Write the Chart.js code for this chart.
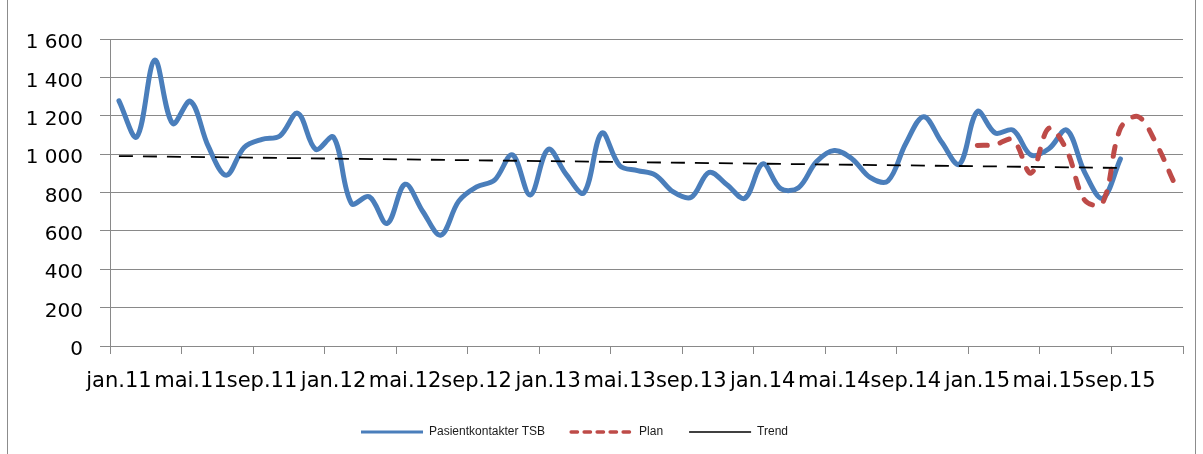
<!DOCTYPE html>
<html>
<head>
<meta charset="utf-8">
<script src="https://cdn.jsdelivr.net/npm/chart.js@4.4.1/dist/chart.umd.min.js"></script>
<style>
  html, body { margin: 0; padding: 0; background: #ffffff; }
  #wrap { position: relative; width: 1203px; height: 454px; }
</style>
</head>
<body>
<div id="wrap"><canvas id="c" width="1203" height="454"></canvas></div>
<script>
// Month axis: jan.11 .. des.15
const monthNames = ['jan', 'feb', 'mar', 'apr', 'mai', 'jun', 'jul', 'aug', 'sep', 'okt', 'nov', 'des'];
const years = ['11', '12', '13', '14', '15'];
const categories = years.flatMap(y => monthNames.map(m => m + '.' + y));

// Pasientkontakter TSB per month, jan.11 .. sep.15
const pasientkontakter = [
  1278, 1090, 1490, 1160, 1275, 1040, 890, 1035, 1077, 1095, 1213, 1025,
  1088, 743, 778, 639, 843, 700, 578, 755, 829, 864, 996, 787,
  1025, 896, 798, 1110, 940, 914, 891, 803, 775, 905, 840, 770,
  949, 820, 825, 960, 1019, 975, 879, 860, 1055, 1195, 1063, 947,
  1222, 1110, 1125, 995, 1028, 1125, 905, 770, 975
];

// Plan for 2015
const planMonths = ['jan.15', 'feb.15', 'mar.15', 'apr.15', 'mai.15', 'jun.15',
                    'jul.15', 'aug.15', 'sep.15', 'okt.15', 'nov.15', 'des.15'];
const planValues = [1045, 1050, 1075, 901, 1135, 1020, 760, 745, 1134, 1195, 1055, 852];

// Linear trend, start and end points
const trendMonths = ['jan.11', 'sep.15'];
const trendValues = [990, 928];

// Value axis
const yMin = 0, yMax = 1600, yStep = 200;
const tickEvery = 4;

const GRID = '#898989';
const FONT_AXIS = 'DejaVu Sans';
const FONT_LEGEND = 'Liberation Sans';

function spaced(v) {
  if (v >= 1000) return Math.floor(v / 1000) + ' ' + String(v % 1000).padStart(3, '0');
  return String(v);
}

const legendNudge = {
  id: 'legendNudge',
  afterLayout(chart, args, opts) {
    const lg = chart.legend;
    if (!lg) return;
    lg.left += opts.dx; lg.right += opts.dx;
    lg.top += opts.dy; lg.bottom += opts.dy;
  }
};

const frame = {
  id: 'frame',
  afterDraw(chart) {
    const ctx = chart.ctx;
    ctx.save();
    ctx.strokeStyle = '#8c8c8c';
    ctx.lineWidth = 1;
    ctx.beginPath();
    ctx.moveTo(7.5, 0); ctx.lineTo(7.5, chart.height);
    ctx.moveTo(1195.5, 0); ctx.lineTo(1195.5, chart.height);
    ctx.stroke();
    ctx.restore();
  }
};

new Chart(document.getElementById('c'), {
  type: 'line',
  data: {
    labels: categories,
    datasets: [
      {
        label: 'Pasientkontakter TSB',
        data: pasientkontakter,
        borderColor: '#4A7EBB',
        backgroundColor: '#4A7EBB',
        borderWidth: 5,
        tension: 0.35,
        pointRadius: 0,
        borderCapStyle: 'round',
        borderJoinStyle: 'round',
        fill: false,
        order: 2,
        legendWidth: 3.2
      },
      {
        label: 'Plan',
        data: planMonths.map((m, i) => ({ x: m, y: planValues[i] })),
        borderColor: '#BE4B48',
        backgroundColor: '#BE4B48',
        borderWidth: 5,
        borderDash: [10, 13],
        borderCapStyle: 'round',
        tension: 0.35,
        pointRadius: 0,
        fill: false,
        order: 1,
        legendWidth: 3.3,
        legendDash: [6.5, 6.5]
      },
      {
        label: 'Trend',
        data: trendMonths.map((m, i) => ({ x: m, y: trendValues[i] })),
        borderColor: '#000000',
        backgroundColor: '#000000',
        borderWidth: 1.8,
        borderDash: [14, 10],
        tension: 0,
        pointRadius: 0,
        fill: false,
        order: 0,
        legendWidth: 1.7
      }
    ]
  },
  options: {
    responsive: false,
    animation: false,
    layout: { padding: { left: 0, right: 20, top: 39, bottom: 0 } },
    plugins: {
      legendNudge: { dx: -17, dy: -16 },
      tooltip: { enabled: false },
      legend: {
        position: 'bottom',
        maxHeight: 38,
        labels: {
          usePointStyle: true,
          pointStyle: 'line',
          pointStyleWidth: 62,
          padding: 26,
          color: '#1a1a1a',
          font: { family: FONT_LEGEND, size: 12 },
          generateLabels(chart) {
            return chart.data.datasets.map((ds, i) => ({
              text: ds.label,
              datasetIndex: i,
              fillStyle: ds.borderColor,
              strokeStyle: ds.borderColor,
              lineWidth: ds.legendWidth,
              lineDash: ds.legendDash || [],
              lineCap: ds.legendDash ? 'round' : 'butt',
              pointStyle: 'line',
              hidden: false,
              fontColor: '#1a1a1a'
            }));
          }
        }
      }
    },
    scales: {
      x: {
        type: 'category',
        offset: true,
        afterFit(scale) { scale.height = 70; },
        grid: {
          offset: true,
          drawOnChartArea: false,
          drawTicks: true,
          tickLength: 8,
          lineWidth: 1,
          color: c => (c.index === undefined || c.index % tickEvery === 0) ? GRID : 'rgba(0,0,0,0)'
        },
        border: { display: true, color: GRID, width: 1 },
        ticks: {
          autoSkip: false,
          maxRotation: 0,
          minRotation: 0,
          padding: 15,
          color: '#000000',
          font: { family: FONT_AXIS, size: 21 },
          callback(value, index) { return index % tickEvery === 0 ? categories[index] : ''; }
        }
      },
      y: {
        min: yMin,
        max: yMax,
        afterFit(scale) { scale.width = 110; },
        grid: {
          color: GRID,
          lineWidth: 1,
          drawTicks: true,
          tickLength: 10
        },
        border: { display: true, color: GRID, width: 1 },
        ticks: {
          stepSize: yStep,
          padding: 17,
          labelOffset: 4,
          color: '#000000',
          font: { family: FONT_AXIS, size: 20 },
          callback: v => spaced(v)
        }
      }
    }
  },
  plugins: [legendNudge, frame]
});
</script>
</body>
</html>
